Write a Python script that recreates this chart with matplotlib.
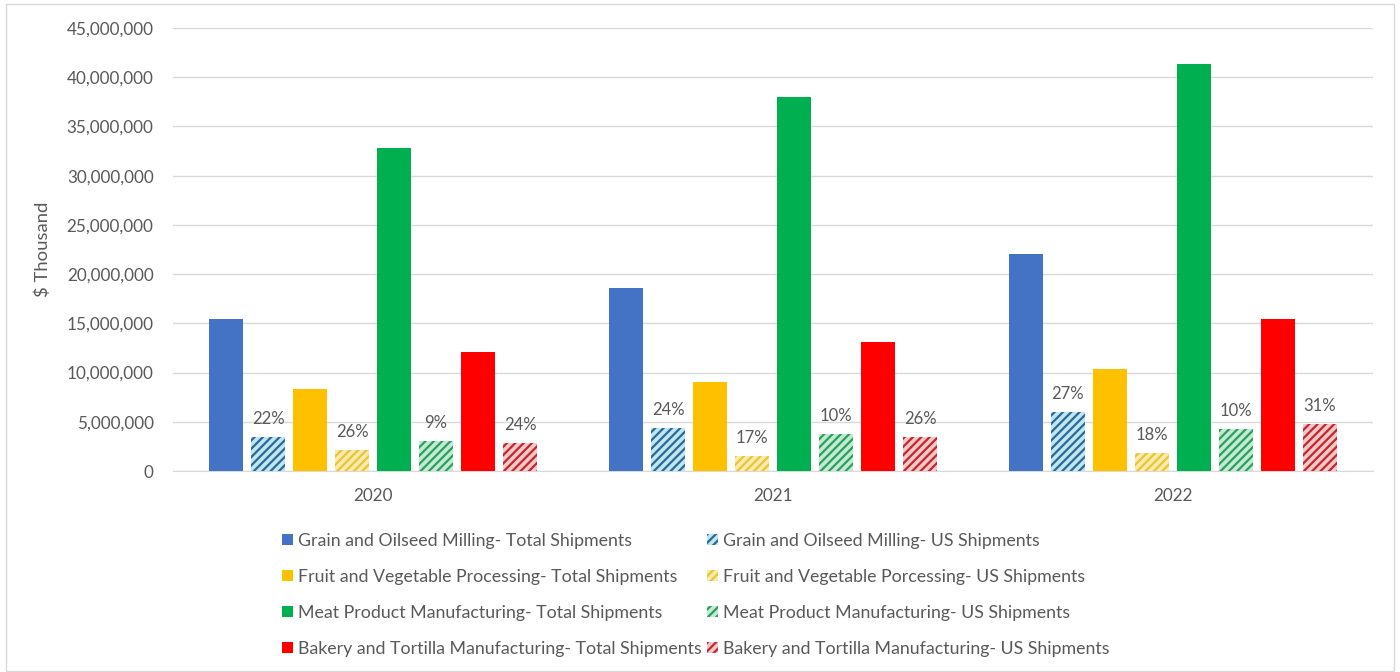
import matplotlib
matplotlib.use("Agg")
import matplotlib.pyplot as plt
import numpy as np
from matplotlib.patches import Rectangle
from matplotlib.ticker import FuncFormatter

plt.rcParams["font.family"] = ["Lato", "DejaVu Sans"]
plt.rcParams["hatch.linewidth"] = 1.6

# ---------------------------------------------------------------------------
# Data ($ thousand)
# ---------------------------------------------------------------------------

years = ["2020", "2021", "2022"]

grain_total = [15_450_000, 18_600_000, 22_050_000]
grain_us = [3_450_000, 4_370_000, 5_990_000]
fruit_total = [8_330_000, 9_040_000, 10_360_000]
fruit_us = [2_130_000, 1_520_000, 1_830_000]
meat_total = [32_800_000, 38_000_000, 41_350_000]
meat_us = [3_050_000, 3_760_000, 4_270_000]
bakery_total = [12_090_000, 13_100_000, 15_440_000]
bakery_us = [2_840_000, 3_450_000, 4_770_000]

grain_pct = ["22%", "24%", "27%"]
fruit_pct = ["26%", "17%", "18%"]
meat_pct = ["9%", "10%", "10%"]
bakery_pct = ["24%", "26%", "31%"]

series = [
    ("Grain and Oilseed Milling- Total Shipments", grain_total, None),
    ("Grain and Oilseed Milling- US Shipments", grain_us, grain_pct),
    ("Fruit and Vegetable Processing- Total Shipments", fruit_total, None),
    ("Fruit and Vegetable Porcessing- US Shipments", fruit_us, fruit_pct),
    ("Meat Product Manufacturing- Total Shipments", meat_total, None),
    ("Meat Product Manufacturing- US Shipments", meat_us, meat_pct),
    ("Bakery and Tortilla Manufacturing- Total Shipments", bakery_total, None),
    ("Bakery and Tortilla Manufacturing- US Shipments", bakery_us, bakery_pct),
]

# (face, hatch colour) per series; hatch colour None = solid
styles = [
    ("#4472C4", None),
    ("#BFE6F2", "#2B6A96"),
    ("#FFC000", None),
    ("#FBEBA6", "#E6C43C"),
    ("#00B050", None),
    ("#C2EBD3", "#2F9E5C"),
    ("#FF0000", None),
    ("#F4C8C8", "#C1272D"),
]

TEXT = "#595959"
GRID = "#D9D9D9"

fig = plt.figure(figsize=(14, 6.72), dpi=100)
ax = fig.add_axes([0.1236, 0.2991, 0.8571, 0.6592])

x = np.arange(len(years))
step = 0.105
width = 0.083
handles = {}
for i, ((label, vals, pct), (face, hcol)) in enumerate(zip(series, styles)):
    pos = x + (i - 3.5) * step
    if hcol is None:
        bars = ax.bar(pos, vals, width, color=face, label=label, zorder=3)
    else:
        bars = ax.bar(pos, vals, width, color=face, edgecolor=hcol, hatch="////",
                      linewidth=0, label=label, zorder=3)
    handles[label] = bars
    if pct is not None:
        for b, t in zip(bars, pct):
            ax.annotate(t, (b.get_x() + b.get_width() / 2, b.get_height()),
                        xytext=(0, 7), textcoords="offset points",
                        ha="center", va="bottom", fontsize=12, color=TEXT)

ax.set_xlim(-0.5, 2.5)
ax.set_ylim(0, 45_000_000)
ax.set_yticks(np.arange(0, 45_000_001, 5_000_000))
ax.yaxis.set_major_formatter(FuncFormatter(lambda v, _: f"{int(v):,}"))
ax.set_xticks(x)
ax.set_xticklabels(years)
ax.tick_params(axis="both", length=0, labelsize=12.3, labelcolor=TEXT)
ax.tick_params(axis="y", pad=14)
ax.tick_params(axis="x", pad=12)
ax.grid(axis="y", color=GRID, linewidth=1, zorder=0)
for side in ("top", "right", "left"):
    ax.spines[side].set_visible(False)
ax.spines["bottom"].set_color(GRID)
ax.set_ylabel("$ Thousand", fontsize=13.3, color=TEXT, labelpad=11)

order = [s[0] for s in series[0::2]] + [s[0] for s in series[1::2]]
fig.legend([handles[k] for k in order], order, loc="upper center",
           bbox_to_anchor=(0.497, 0.231), ncol=2, frameon=False, fontsize=12.8,
           labelcolor=TEXT, handlelength=0.6, handleheight=0.6,
           handletextpad=0.3, columnspacing=0.3, labelspacing=1.13)

fig.patches.append(Rectangle((6 / 1400, 0.001), 1388 / 1400, 1 - 5 / 672,
                             transform=fig.transFigure, fill=False,
                             edgecolor=GRID, linewidth=1))

fig.savefig("out.png", dpi=100)
